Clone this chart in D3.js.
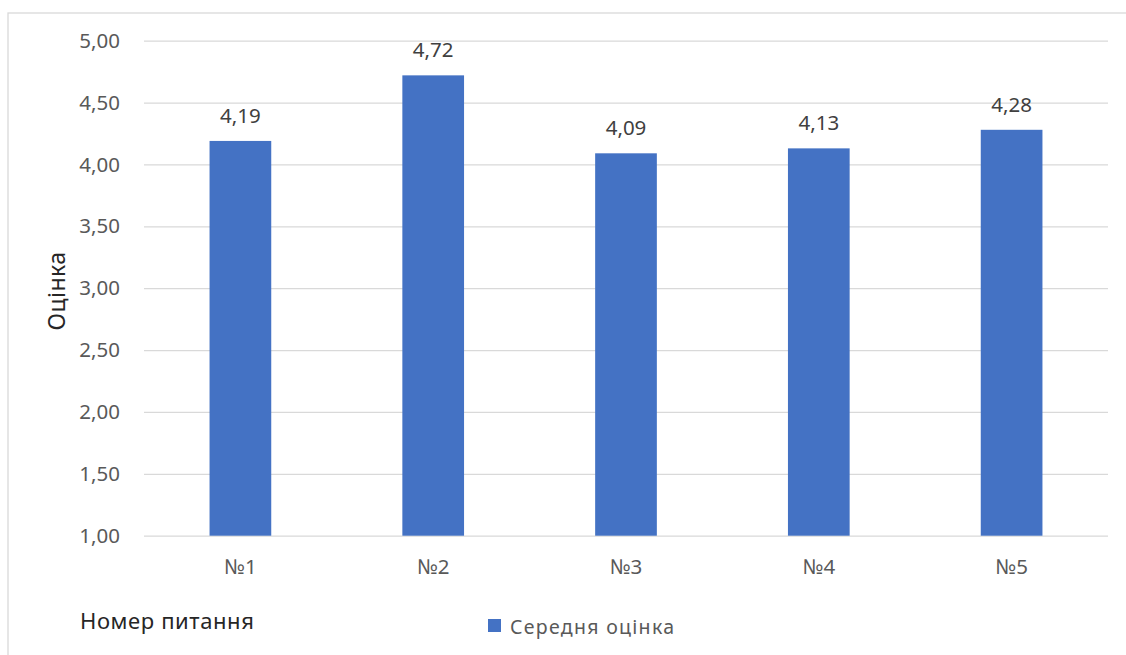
<!DOCTYPE html>
<html>
<head>
<meta charset="utf-8">
<script src="https://cdn.jsdelivr.net/npm/d3@7"></script>
<style>
  body { margin: 0; background: #fff; }
  svg { display: block; font-family: "Noto Sans", "Open Sans", sans-serif; }
</style>
</head>
<body>
<div id="chart"></div>
<script>
  // data
  const questions = ["№1", "№2", "№3", "№4", "№5"]
  const scores = [4.19, 4.72, 4.09, 4.13, 4.28]
  const yTicks = [1, 1.5, 2, 2.5, 3, 3.5, 4, 4.5, 5]
  const seriesName = "Середня оцінка"

  const W = 1126, H = 655
  const margin = { top: 40.7, right: 18, bottom: 119.3, left: 144 }
  const width = W - margin.left - margin.right
  const height = H - margin.top - margin.bottom

  const root = d3.select("#chart").append("svg")
      .attr("width", W)
      .attr("height", H)

  // chart border (cropped on right and bottom like the original)
  root.append("rect")
    .attr("x", 8).attr("y", 13)
    .attr("width", W).attr("height", H)
    .attr("fill", "none")
    .attr("stroke", "#d9d9d9")
    .attr("stroke-width", 1.3)

  const svg = root.append("g")
      .attr("transform", "translate(" + margin.left + "," + margin.top + ")")

  const xScale = d3.scaleBand()
    .domain(questions)
    .range([0, width])
    .paddingInner(0.68)
    .paddingOuter(0.34)

  const yScale = d3.scaleLinear()
    .domain([1, 5])
    .range([height, 0])

  const fmt = v => d3.format(".2f")(v).replace(".", ",")

  // gridlines + y labels
  const yAxis = d3.axisLeft(yScale)
    .tickValues(yTicks)
    .tickSize(-width)
    .tickPadding(24)
    .tickFormat(fmt)
  svg.append("g")
    .call(yAxis)
    .call(g => g.select(".domain").remove())
    .call(g => g.selectAll(".tick line").attr("stroke", "#d9d9d9").attr("stroke-width", 1.3))
    .call(g => g.selectAll(".tick text")
      .attr("fill", "#595959")
      .style("font-size", "20.5px")
      .style("font-family", "Noto Sans"))

  // bars
  svg.selectAll("rect.bar")
    .data(questions)
    .join("rect")
    .attr("class", "bar")
    .attr("x", d => xScale(d))
    .attr("width", xScale.bandwidth())
    .attr("y", (d, i) => yScale(scores[i]))
    .attr("height", (d, i) => height - yScale(scores[i]))
    .attr("fill", "#4472c4")

  // value labels
  svg.selectAll("text.val")
    .data(questions)
    .join("text")
    .attr("class", "val")
    .attr("x", d => xScale(d) + xScale.bandwidth() / 2)
    .attr("y", (d, i) => yScale(scores[i]) - 18)
    .attr("text-anchor", "middle")
    .attr("fill", "#404040")
    .style("font-size", "20.5px")
    .text((d, i) => fmt(scores[i]))

  // x labels
  const xAxis = d3.axisBottom(xScale).tickSize(0).tickPadding(24)
  svg.append("g")
    .attr("transform", "translate(0," + height + ")")
    .call(xAxis)
    .call(g => g.select(".domain").remove())
    .call(g => g.selectAll(".tick text")
      .attr("fill", "#595959")
      .style("font-size", "20.5px")
      .style("font-family", "Noto Sans"))

  // axis titles
  root.append("text")
    .attr("transform", "translate(65,291) rotate(-90)")
    .attr("text-anchor", "middle")
    .attr("fill", "#262626")
    .style("font-size", "23px")
    .style("letter-spacing", "0.5px")
    .text("Оцінка")

  root.append("text")
    .attr("x", 80).attr("y", 629)
    .attr("fill", "#262626")
    .style("font-size", "22px")
    .style("letter-spacing", "0.6px")
    .text("Номер питання")

  // legend
  const legend = root.append("g").attr("transform", "translate(488,619)")
  legend.append("rect")
    .attr("width", 13).attr("height", 13)
    .attr("fill", "#4472c4")
  legend.append("text")
    .attr("x", 22).attr("y", 15)
    .attr("fill", "#595959")
    .style("font-size", "19.5px")
    .style("letter-spacing", "1.3px")
    .text(seriesName)
</script>
</body>
</html>
